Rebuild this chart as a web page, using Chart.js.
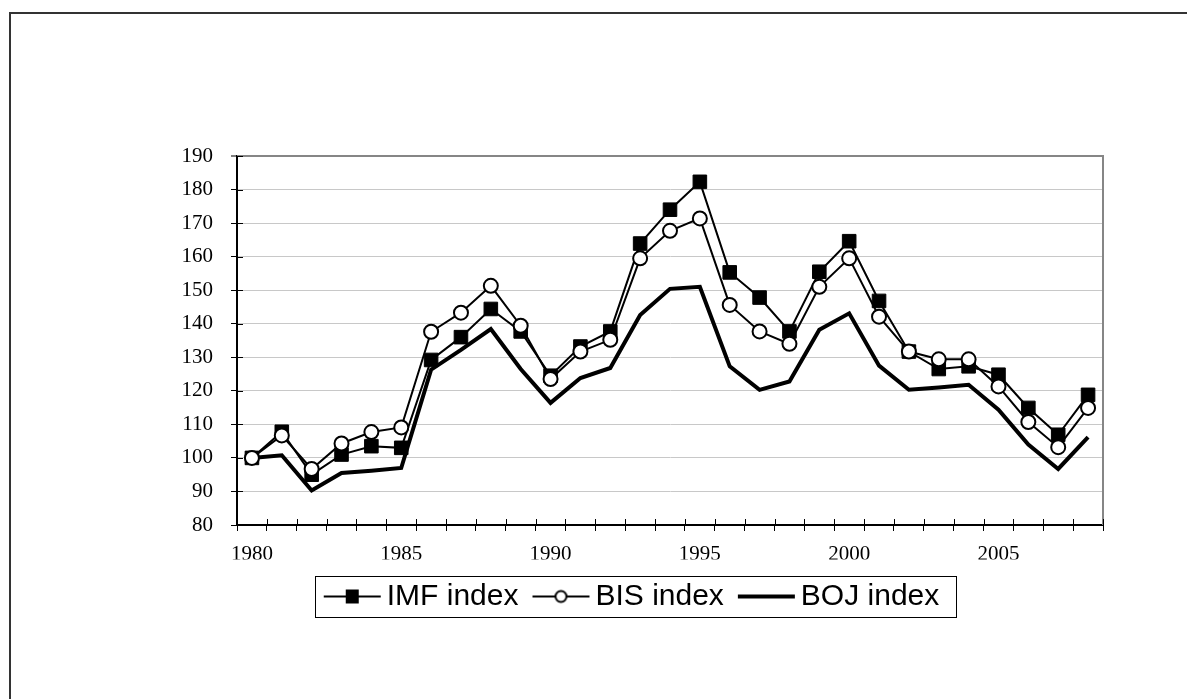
<!DOCTYPE html>
<html>
<head>
<meta charset="utf-8">
<script src="https://cdn.jsdelivr.net/npm/chart.js@4.4.1/dist/chart.umd.min.js"></script>
<style>
  html, body { margin: 0; padding: 0; background: #fff; overflow: hidden; }
  #frame { position: absolute; left: 9px; top: 12px; width: 1300px; height: 800px; border: 2px solid #333; }
  #myChart { position: absolute; left: 0; top: 0; }
</style>
</head>
<body>
<div id="frame"></div>
<canvas id="myChart" width="1187" height="699"></canvas>
<script>
// số liệu
var years = [1980, 1981, 1982, 1983, 1984, 1985, 1986, 1987, 1988, 1989,
             1990, 1991, 1992, 1993, 1994, 1995, 1996, 1997, 1998, 1999,
             2000, 2001, 2002, 2003, 2004, 2005, 2006, 2007, 2008];
var imfIndex = [100, 107.8, 95, 101, 103.5, 103, 129.2, 136, 144.4, 137.7,
                124.5, 133.2, 137.7, 163.9, 174, 182.3, 155.3, 147.8, 137.7, 155.5,
                164.6, 146.8, 131.7, 126.5, 127.3, 124.8, 114.9, 106.9, 118.8];
var bisIndex = [100, 106.7, 96.7, 104.3, 107.7, 109.1, 137.6, 143.3, 151.3, 139.4,
                123.5, 131.7, 135.2, 159.5, 167.7, 171.4, 145.6, 137.7, 134, 151,
                159.5, 142.1, 131.7, 129.4, 129.4, 121.3, 110.7, 103.2, 114.9];
var bojIndex = [100, 100.8, 90.3, 95.5, 96.2, 97, 126.3, 132.2, 138.4, 126.5,
                116.4, 123.8, 126.8, 142.6, 150.4, 151, 127.3, 120.3, 122.8, 138.2,
                143.1, 127.5, 120.3, 121, 121.8, 114.4, 104, 96.7, 106.2];
var seriesNames = ['IMF index', 'BIS index', 'BOJ index'];
var yTicks = [80, 190, 10]; // min, max, step

// mẫu đường + điểm cho chú thích
function makeSample(kind) {
    var c = document.createElement('canvas');
    c.width = 64; c.height = 30;
    var g = c.getContext('2d');
    g.strokeStyle = '#000';
    g.lineWidth = kind === 'boj' ? 4 : 2;
    g.beginPath(); g.moveTo(4, 15); g.lineTo(61, 15); g.stroke();
    if (kind === 'imf') {
        g.fillStyle = '#000';
        g.fillRect(26, 8, 13, 14);
    } else if (kind === 'bis') {
        g.beginPath(); g.arc(32.5, 15, 5.5, 0, Math.PI * 2);
        g.fillStyle = '#fff'; g.fill();
        g.lineWidth = 2; g.stroke();
    }
    return c;
}
var samples = [makeSample('imf'), makeSample('bis'), makeSample('boj')];

// khung, vạch chia bên trong, hộp chú thích
var extras = {
    id: 'extras',
    beforeDatasetsDraw: function(chart) {
        var ctx = chart.ctx, a = chart.chartArea;
        var xs = chart.scales.x, ys = chart.scales.y;
        ctx.save();
        ctx.strokeStyle = '#868686';
        ctx.lineWidth = 2;
        ctx.beginPath();
        ctx.moveTo(a.left, a.top); ctx.lineTo(a.right, a.top); ctx.lineTo(a.right, a.bottom);
        ctx.stroke();
        ctx.strokeStyle = '#000';
        ctx.lineWidth = 1;
        ctx.beginPath();
        for (var i = 0; i <= years.length; i++) {
            var px = Math.round(xs.getPixelForValue(i - 0.5)) + 0.5;
            ctx.moveTo(px, a.bottom); ctx.lineTo(px, a.bottom - 6);
        }
        ys.ticks.forEach(function(t) {
            var py = Math.round(ys.getPixelForValue(t.value)) + 0.5;
            ctx.moveTo(a.left, py); ctx.lineTo(a.left + 6, py);
        });
        ctx.stroke();
        ctx.restore();
    },
    afterDraw: function(chart) {
        var lg = chart.legend;
        if (!lg || !lg.legendHitBoxes || !lg.legendHitBoxes.length) return;
        var hb = lg.legendHitBoxes;
        var first = hb[0], last = hb[hb.length - 1];
        var left = first.left - 17;
        var right = last.left + last.width + 16;
        var top = first.top - 5.5;
        var ctx = chart.ctx;
        ctx.save();
        ctx.strokeStyle = '#000';
        ctx.lineWidth = 1;
        ctx.strokeRect(Math.round(left) + 0.5, Math.round(top) + 0.5, Math.round(right - left), 41);
        ctx.restore();
    }
};

var chartCanvas = document.getElementById('myChart');
var ctx = chartCanvas.getContext('2d');
var myChart = new Chart(ctx, {
    type: 'line',
    data: {
        labels: years,
        datasets: [{
            label: seriesNames[0],
            data: imfIndex,
            order: 1,
            borderColor: '#000',
            borderWidth: 2,
            backgroundColor: '#000',
            pointStyle: 'rect',
            pointRadius: 9.6,
            pointBorderWidth: 1,
            pointBorderColor: '#000',
            pointBackgroundColor: '#000',
            tension: 0
        }, {
            label: seriesNames[1],
            data: bisIndex,
            order: 0,
            borderColor: '#000',
            borderWidth: 2,
            backgroundColor: '#fff',
            pointStyle: 'circle',
            pointRadius: 7,
            pointBorderWidth: 2,
            pointBorderColor: '#000',
            pointBackgroundColor: '#fff',
            tension: 0
        }, {
            label: seriesNames[2],
            data: bojIndex,
            order: 2,
            borderColor: '#000',
            borderWidth: 4,
            pointRadius: 0,
            tension: 0
        }]
    },
    options: {
        responsive: false,
        animation: false,
        layout: { padding: { left: 168, right: 84, top: 156, bottom: 77.5 } },
        scales: {
            x: {
                type: 'category',
                offset: true,
                grid: { offset: true, drawOnChartArea: false, drawTicks: true, tickLength: 6, tickColor: '#000', tickWidth: 1 },
                border: { color: '#000', width: 2 },
                ticks: {
                    autoSkip: false,
                    maxRotation: 0,
                    padding: 11,
                    color: '#000',
                    font: { family: 'Liberation Serif', size: 21 },
                    callback: function(v, i) {
                        return years[i] % 5 === 0 ? String(years[i]) : '';
                    }
                },
                afterFit: function(s) { s.height = 34.5; }
            },
            y: {
                min: yTicks[0],
                max: yTicks[1],
                grid: {
                    color: function(c) { return c.tick && c.tick.value === 190 ? '#868686' : '#c8c8c8'; },
                    lineWidth: function(c) { return c.tick && c.tick.value === 190 ? 2 : 1; },
                    tickLength: 6,
                    tickColor: '#000',
                    tickWidth: 1
                },
                border: { color: '#000', width: 2 },
                ticks: {
                    stepSize: yTicks[2],
                    padding: 18,
                    color: '#000',
                    font: { family: 'Liberation Serif', size: 21 }
                },
                afterFit: function(s) { s.width = 69; }
            }
        },
        plugins: {
            tooltip: { enabled: false },
            legend: {
                position: 'bottom',
                labels: {
                    usePointStyle: true,
                    pointStyleWidth: 40,
                    padding: 22,
                    color: '#000',
                    font: { family: 'Liberation Sans', size: 30 },
                    generateLabels: function(chart) {
                        return seriesNames.map(function(name, i) {
                            return {
                                text: name,
                                pointStyle: samples[i],
                                fillStyle: '#000',
                                strokeStyle: '#000',
                                lineWidth: 0,
                                hidden: false,
                                datasetIndex: i
                            };
                        });
                    }
                }
            }
        }
    },
    plugins: [extras]
});
</script>
</body>
</html>
